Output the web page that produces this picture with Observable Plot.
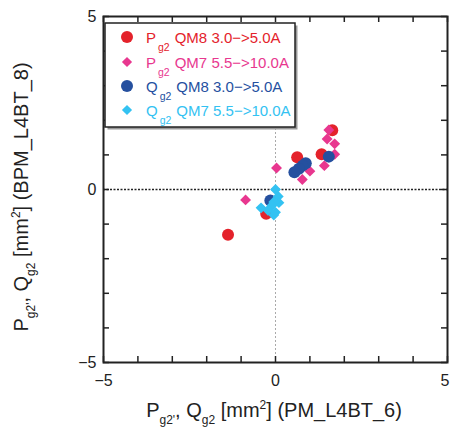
<!DOCTYPE html>
<html><head><meta charset="utf-8">
<script src="https://cdn.jsdelivr.net/npm/d3@7"></script>
<script src="https://cdn.jsdelivr.net/npm/@observablehq/plot@0.6"></script>
<style>body{margin:0;background:#fff}#chart{width:450px;height:430px;overflow:hidden}</style>
</head><body><div id="chart"></div>
<script>
// Data: [x, y] in mm^2
const pQM8 = [[1.65,1.71],[1.34,1.02],[0.63,0.93],[-1.38,-1.31],[-0.27,-0.70]];
const pQM7 = [[1.55,1.72],[1.50,1.46],[1.72,1.32],[1.72,1.02],[1.42,0.69],[1.00,0.53],[0.78,0.29],[0.03,0.62],[-0.87,-0.30]];
const qQM8 = [[1.55,0.95],[0.88,0.76],[0.79,0.69],[0.68,0.60],[0.55,0.50],[-0.15,-0.32]];
const qQM7 = [[0.0,0.0],[0.08,-0.20],[0.10,-0.38],[-0.05,-0.36],[-0.10,-0.46],[-0.42,-0.53],[-0.22,-0.60],[0.0,-0.66],[-0.05,-0.74]];
const seriesColors = ["#e4222b","#e8378f","#25509f","#33c2f2"];
const seriesSymbols = ["circle","diamond2","circle","diamond2"];
const legendMain = ["P","P","Q","Q"];
const legendSub = ["g2","g2","g2","g2"];
const legendRest = ["QM8 3.0\u2212>5.0A","QM7 5.5\u2212>10.0A","QM8 3.0\u2212>5.0A","QM7 5.5\u2212>10.0A"];
const axisTicks = [-5,-4,-3,-2,-1,0,1,2,3,4,5];
const axisLabels = [-5,0,5];
const domain = [-5,5];

const seriesData = [pQM8,pQM7,qQM8,qQM7];
const W=450,H=430,mL=103,mR=3,mT=16,mB=68;
const innerW=W-mL-mR, innerH=H-mT-mB;
const font="'Liberation Sans', Arial, sans-serif";

const dotMarks = seriesData.map((d,i)=>Plot.dot(d,{x:p=>p[0],y:p=>p[1],symbol:()=>seriesSymbols[i],
  r: seriesSymbols[i]==="circle"?6:4.9, fill:seriesColors[i], stroke:"none"}));

const plot = Plot.plot({
  width:W,height:H,marginLeft:mL,marginRight:mR,marginTop:mT,marginBottom:mB,
  x:{domain},y:{domain},
  symbol:{type:"identity"},
  style:{fontFamily:font,fontSize:"16px",color:"#222",background:"white",overflow:"visible"},
  marks:[
    Plot.ruleX([0],{stroke:"#aaa",strokeWidth:1,strokeDasharray:"2,2"}),
    Plot.ruleY([0],{stroke:"#222",strokeWidth:1.5,strokeDasharray:"2,1.5"}),
    Plot.tickX(axisTicks,{x:d=>d,insetTop:innerH-6,stroke:"#222",strokeWidth:1.5}),
    Plot.tickX(axisTicks,{x:d=>d,insetBottom:innerH-6,stroke:"#222",strokeWidth:1.5}),
    Plot.tickY(axisTicks,{y:d=>d,insetRight:innerW-6,stroke:"#222",strokeWidth:1.5}),
    Plot.tickY(axisTicks,{y:d=>d,insetLeft:innerW-6,stroke:"#222",strokeWidth:1.5}),
    Plot.axisX(axisLabels,{tickSize:0,tickPadding:12,label:null,fontSize:16}),
    Plot.axisY(axisLabels,{tickSize:0,tickPadding:7,label:null,fontSize:16}),
    ...dotMarks,
    Plot.frame({stroke:"#222",strokeWidth:2})
  ]
});
document.getElementById("chart").append(plot);

const svg = d3.select(plot);
// keep the right-most x tick label inside the window
svg.selectAll("[aria-label='x-axis tick label'] text").filter(function(){return this.textContent==="5";}).attr("dx",-2.5);

function richLabel(g, parts){
  const t = g.append("text").attr("font-family",font).attr("font-size",20).attr("fill","#222").attr("text-anchor","middle");
  let shift=0;
  for(const [s,kind] of parts){
    const target = kind==="sub"?7:kind==="sup"?-8:0;
    t.append("tspan").attr("dy",target-shift).attr("font-size",kind?12:20).text(s);
    shift=target;
  }
  return t;
}
const labelParts=(name)=>[["P",null],["g2'","sub"],[", Q",null],["g2","sub"],[" [mm",null],["2","sup"],["] ("+name+")",null]];
richLabel(svg.append("g").attr("transform","translate(274,417)"), labelParts("PM_L4BT_6"));
richLabel(svg.append("g").attr("transform","translate(28,197) rotate(-90)"), labelParts("BPM_L4BT_8"));

// legend
const lg = svg.append("g").attr("text-anchor","start");
lg.append("rect").attr("x",107.5).attr("y",25.5).attr("width",190).attr("height",104).attr("fill","#999");
lg.append("rect").attr("x",105).attr("y",23).attr("width",190).attr("height",104).attr("fill","white").attr("stroke","#222").attr("stroke-width",1.5);
const rowY=[37,62,86,110];
legendMain.forEach((m,i)=>{
  const c=seriesColors[i];
  if(seriesSymbols[i]==="circle") lg.append("circle").attr("cx",127).attr("cy",rowY[i]).attr("r",6).attr("fill",c);
  else lg.append("path").attr("d",d3.symbol(d3.symbolDiamond2, Math.PI*4.6*4.6)()).attr("transform",`translate(127,${rowY[i]})`).attr("fill",c);
  const t=lg.append("text").attr("x",146).attr("y",rowY[i]+5.5).attr("text-anchor","start").attr("font-family",font).attr("font-size",15).attr("fill",c);
  t.append("tspan").text(m);
  t.append("tspan").attr("dy",8).attr("font-size",10.5).attr("dx",2).text(legendSub[i]);
  t.append("tspan").attr("dy",-8).attr("dx",5).text(legendRest[i]);
});
</script>
</body></html>
